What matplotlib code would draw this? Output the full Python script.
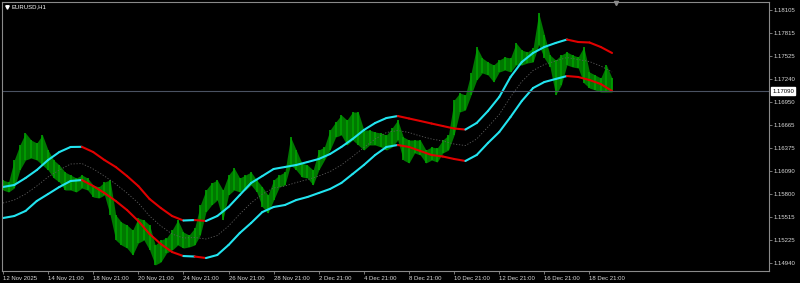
import matplotlib
matplotlib.use('Agg')
import matplotlib.pyplot as plt
from matplotlib.collections import LineCollection
import matplotlib.transforms as mtransforms
import numpy as np

high = [1.15980, 1.15955, 1.16230, 1.16418, 1.16568, 1.16480, 1.16443, 1.16543, 1.16355, 1.16230,
        1.16168, 1.16080, 1.16043, 1.16005, 1.16043, 1.16005, 1.15918, 1.15893, 1.15955, 1.15980,
        1.15543, 1.15455, 1.15418, 1.15355, 1.15505, 1.15480, 1.15418, 1.15168, 1.15230, 1.15255,
        1.15355, 1.15480, 1.15330, 1.15293, 1.15380, 1.15668, 1.15855, 1.15943, 1.15980, 1.15855,
        1.16043, 1.16130, 1.16005, 1.16043, 1.16080, 1.15980, 1.15893, 1.15793, 1.15980, 1.16043,
        1.16080, 1.16518, 1.16355, 1.16193, 1.16168, 1.16105, 1.16355, 1.16393, 1.16605, 1.16705,
        1.16793, 1.16730, 1.16830, 1.16830, 1.16605, 1.16605, 1.16580, 1.16568, 1.16543, 1.16630,
        1.16730, 1.16518, 1.16480, 1.16480, 1.16480, 1.16355, 1.16393, 1.16380, 1.16480, 1.16543,
        1.16980, 1.17068, 1.17043, 1.17318, 1.17643, 1.17505, 1.17455, 1.17418, 1.17480, 1.17518,
        1.17505, 1.17693, 1.17605, 1.17580, 1.17630, 1.18068, 1.17793, 1.17543, 1.17480, 1.17543,
        1.17580, 1.17543, 1.17518, 1.17643, 1.17330, 1.17293, 1.17255, 1.17418, 1.17255]
low = [1.15855, 1.15830, 1.15880, 1.16105, 1.16230, 1.16255, 1.16230, 1.16168, 1.16105, 1.16005,
       1.15955, 1.15855, 1.15855, 1.15830, 1.15880, 1.15855, 1.15768, 1.15755, 1.15793, 1.15543,
       1.15230, 1.15168, 1.15130, 1.15043, 1.15193, 1.15230, 1.15105, 1.14918, 1.14955, 1.15068,
       1.15105, 1.15168, 1.15130, 1.15143, 1.15168, 1.15293, 1.15580, 1.15668, 1.15730, 1.15480,
       1.15793, 1.15855, 1.15830, 1.15855, 1.15918, 1.15830, 1.15643, 1.15568, 1.15730, 1.15893,
       1.15918, 1.16168, 1.16105, 1.16018, 1.16005, 1.15918, 1.16105, 1.16230, 1.16355, 1.16518,
       1.16543, 1.16418, 1.16480, 1.16418, 1.16355, 1.16418, 1.16418, 1.16393, 1.16355, 1.16393,
       1.16480, 1.16230, 1.16193, 1.16318, 1.16293, 1.16193, 1.16230, 1.16205, 1.16318, 1.16355,
       1.16543, 1.16830, 1.16855, 1.17043, 1.17230, 1.17318, 1.17293, 1.17205, 1.17330, 1.17355,
       1.17330, 1.17418, 1.17418, 1.17443, 1.17455, 1.17668, 1.17505, 1.17393, 1.17043, 1.17168,
       1.17418, 1.17393, 1.17380, 1.17193, 1.17130, 1.17105, 1.17080, 1.17080, 1.17080]

# envelope bands, sampled every 12 bars
upper = [1.15893, 1.15918, 1.16005, 1.16105, 1.16230, 1.16330, 1.16393, 1.16395, 1.16330, 1.16230,
         1.16143, 1.16030, 1.15905, 1.15743, 1.15630, 1.15530, 1.15474, 1.15480, 1.15468, 1.15530,
         1.15643, 1.15793, 1.15943, 1.16030, 1.16118, 1.16143, 1.16168, 1.16205, 1.16243, 1.16305,
         1.16393, 1.16493, 1.16605, 1.16693, 1.16755, 1.16780, 1.16749, 1.16718, 1.16686, 1.16655,
         1.16624, 1.16611, 1.16693, 1.16843, 1.17018, 1.17268, 1.17455, 1.17568, 1.17643, 1.17693,
         1.17736, 1.17705, 1.17699, 1.17643, 1.17568]
middle = [1.15693, 1.15730, 1.15805, 1.15905, 1.16018, 1.16105, 1.16180, 1.16186, 1.16118, 1.16030,
          1.15930, 1.15818, 1.15693, 1.15530, 1.15405, 1.15305, 1.15255, 1.15261, 1.15243, 1.15286,
          1.15405, 1.15555, 1.15693, 1.15805, 1.15880, 1.15905, 1.15949, 1.15986, 1.16030, 1.16086,
          1.16168, 1.16274, 1.16386, 1.16493, 1.16574, 1.16599, 1.16574, 1.16530, 1.16493, 1.16468,
          1.16430, 1.16411, 1.16493, 1.16643, 1.16799, 1.17018, 1.17211, 1.17349, 1.17424, 1.17468,
          1.17511, 1.17486, 1.17461, 1.17405, 1.17330]
lower = [1.15505, 1.15530, 1.15593, 1.15718, 1.15805, 1.15893, 1.15968, 1.15980, 1.15905, 1.15818,
         1.15718, 1.15605, 1.15468, 1.15305, 1.15180, 1.15080, 1.15030, 1.15024, 1.15005, 1.15043,
         1.15168, 1.15318, 1.15443, 1.15580, 1.15643, 1.15668, 1.15730, 1.15768, 1.15818, 1.15868,
         1.15943, 1.16055, 1.16168, 1.16293, 1.16393, 1.16418, 1.16393, 1.16343, 1.16293, 1.16274,
         1.16243, 1.16218, 1.16293, 1.16443, 1.16580, 1.16768, 1.16968, 1.17130, 1.17205, 1.17243,
         1.17280, 1.17268, 1.17230, 1.17180, 1.17093]

last_price = 1.17090
price_ticks = [1.18105, 1.17815, 1.17525, 1.17240, 1.16950, 1.16665,
               1.16375, 1.16090, 1.15800, 1.15515, 1.15225, 1.14940]
date_labels = ['12 Nov 2025', '14 Nov 21:00', '18 Nov 21:00', '20 Nov 21:00', '24 Nov 21:00',
               '26 Nov 21:00', '28 Nov 21:00', '2 Dec 21:00', '4 Dec 21:00', '8 Dec 21:00',
               '10 Dec 21:00', '12 Dec 21:00', '16 Dec 21:00', '18 Dec 21:00']

plt.rcParams['font.family'] = ['Liberation Sans', 'DejaVu Sans']

bars = np.arange(len(high)) * 6
bars_band = np.arange(len(upper)) * 12

fig = plt.figure(figsize=(8, 2.83), dpi=100, facecolor='black')
ax = fig.add_axes([0.0025, 0.0424, 0.95875, 0.9505], facecolor='black')

# price: filled high/low range with bar ticks on top
ax.fill_between(bars, low, high, color='#007800', lw=0)
ax.vlines(bars, low, high, color='#00a000', lw=1.2)

# band colour follows the slope of the middle line
rising = np.diff(middle) >= 0
seg_cols = np.where(rising, '#22e4f0', '#e00000')
for band in (upper, lower):
    pts = np.column_stack([bars_band, band])
    segs = np.stack([pts[:-1], pts[1:]], axis=1)
    ax.add_collection(LineCollection(segs, colors=seg_cols, linewidths=1.5, capstyle='round'))
ax.plot(bars_band, middle, color='#5c5c5c', lw=0.6, ls=(0, (1.5, 2.0)))

# current price line + label
ax.axhline(last_price, color='#4a5262', lw=0.8)
trans = mtransforms.blended_transform_factory(ax.transAxes, ax.transData)
ax.text(1.004, last_price, '%.5f' % last_price, transform=trans, va='center', ha='left',
        fontsize=4.3, color='black', clip_on=False,
        bbox=dict(boxstyle='square,pad=0.25', fc='white', ec='white'))

# chart shift marker
trans2 = mtransforms.blended_transform_factory(ax.transData, ax.transAxes)
ax.plot([bars[-1] + 4], [0.997], marker='v', color='#8a8a8a', ms=3, transform=trans2, clip_on=False)

ax.set_xlim(-1, 815)
ax.set_ylim(1.14843, 1.18205)
ax.yaxis.tick_right()
ax.set_yticks(price_ticks)
ax.set_yticklabels(['%.5f' % v for v in price_ticks])
ax.set_xticks(np.arange(len(date_labels)) * 48)
ax.set_xticklabels(date_labels, ha='left')
ax.tick_params(colors='#8a8a8a', labelcolor='#d8d8d8', labelsize=4.3, length=2, width=0.6, pad=1.5)
for s in ax.spines.values():
    s.set_color('#8a8a8a')
    s.set_linewidth(0.8)

# symbol caption
ax.plot([0.006], [0.982], marker='v', color='white', ms=2.5, transform=ax.transAxes)
ax.text(0.012, 0.982, 'EURUSD,H1', transform=ax.transAxes, color='white', fontsize=4.3,
        va='center', ha='left')

fig.savefig('out.png', dpi=100, facecolor='black')
